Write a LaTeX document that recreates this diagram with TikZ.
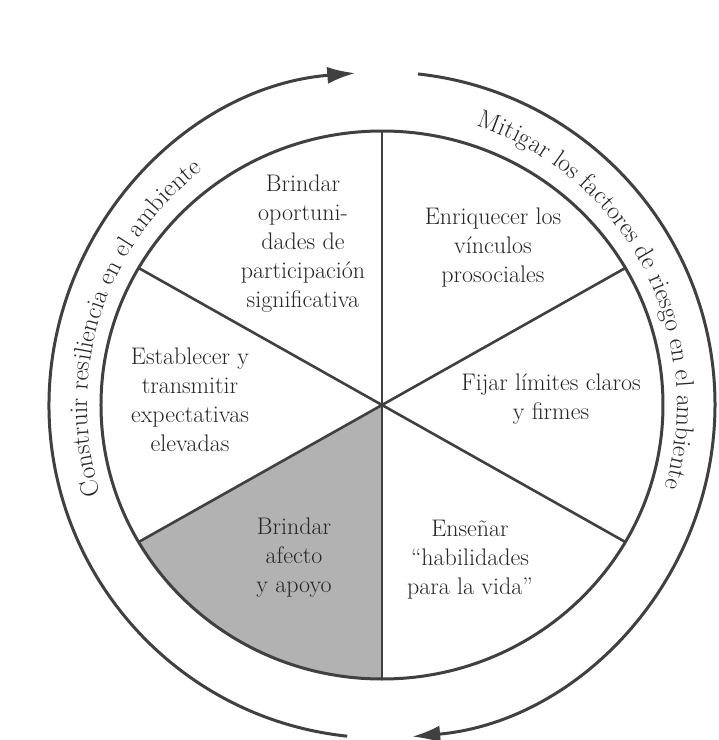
\documentclass[tikz,border=0pt]{standalone}
\usetikzlibrary{arrows.meta,decorations.text}
\begin{document}
\begin{tikzpicture}[x=1pt,y=1pt,
    rim/.style={draw=black!75, line width=3pt},
    spoke/.style={draw=black!75, line width=2.6pt},
    wedgetext/.style={align=center, text=black!85, inner sep=0pt,
        font=\fontsize{24}{29}\selectfont},
    ringtext/.style={decorate, decoration={text along path, text align=center,
        text color=black!85, text format delimiters={|}{|}}}]
\useasboundingbox (-382,-335) rectangle (337,405);
\fill[white] (-382,-335) rectangle (337,405);
% shaded sector
\fill[black!30] (0,0) -- (210:281 and 274) arc[start angle=210, end angle=270, x radius=281, y radius=274] -- cycle;
% wheel
\coordinate (c) at (0,0);
\foreach \a in {30,90,150,210,270,330}
    \draw[spoke] (c) -- (\a:281 and 274);
\draw[rim] (c) ellipse[x radius=281, y radius=274];
% outer arrows
\draw[rim, -{Latex[length=28pt,width=17pt]}] (264:333) arc[start angle=264, end angle=94.6, radius=333];
\draw[rim, -{Latex[length=28pt,width=17pt]}] (83.8:333) arc[start angle=83.8, end angle=-84.8, radius=333];
% ring texts
\path[ringtext, decoration={text={|\fontsize{25.5}{30}\selectfont|Construir resiliencia en el ambiente}}]
    (202:295) arc[start angle=202, end angle=123, radius=295];
\path[ringtext, decoration={text={|\fontsize{25.5}{30}\selectfont|Mitigar los factores de riesgo en el ambiente}}]
    (79:295) arc[start angle=79, end angle=-24, radius=295];
% sector texts
\node[wedgetext] (oportunidades) at (-79,161) {Brindar\\oportuni-\\dades de\\participaci\'on\\significativa};
\node[wedgetext] (vinculos) at (111,157) {Enriquecer los\\v\'inculos\\prosociales};
\node[wedgetext] (expectativas) at (-192,5) {Establecer y\\transmitir\\expectativas\\elevadas};
\node[wedgetext] (limites) at (169,6) {Fijar l\'imites claros\\y firmes};
\node[wedgetext] (afecto) at (-88,-153) {Brindar\\afecto\\y apoyo};
\node[wedgetext] (habilidades) at (88,-155) {Ense\~nar\\``habilidades\\para la vida''};
\end{tikzpicture}
\end{document}
